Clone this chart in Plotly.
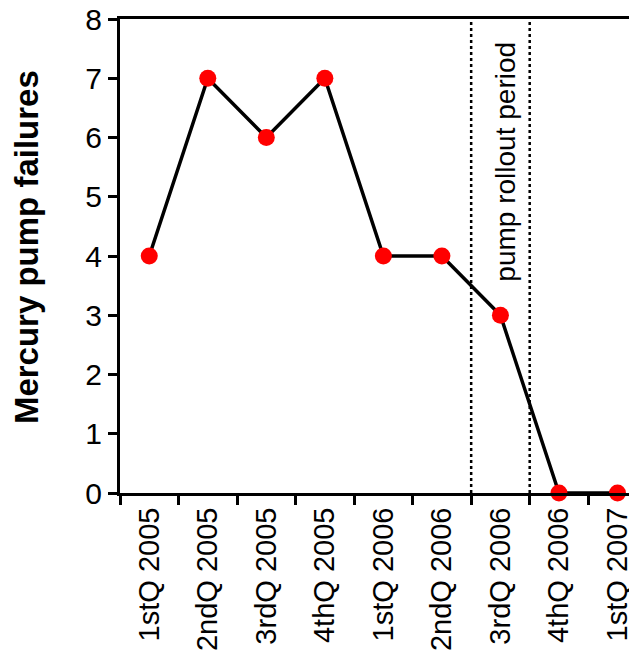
import plotly.graph_objects as go

quarters = ["1stQ 2005", "2ndQ 2005", "3rdQ 2005", "4thQ 2005", "1stQ 2006",
            "2ndQ 2006", "3rdQ 2006", "4thQ 2006", "1stQ 2007"]
failures = [4, 7, 6, 7, 4, 4, 3, 0, 0]
rollout_bounds = [5.5, 6.5]
rollout_label = "pump rollout period"
y_title = "Mercury pump failures"

FONT = "Liberation Sans, Arial, sans-serif"

fig = go.Figure()
fig.add_trace(go.Scatter(
    x=quarters, y=failures, mode="lines+markers",
    line=dict(color="black", width=3.5),
    marker=dict(color="#ff0000", size=17, line=dict(width=0)),
    cliponaxis=False, showlegend=False,
))

for b in rollout_bounds:
    fig.add_shape(type="line", xref="x", yref="y", x0=b, x1=b, y0=0, y1=8,
                  line=dict(color="black", width=2.5, dash="dot"))

fig.add_annotation(x=6, y=5.6, xref="x", yref="y", text=rollout_label,
                   textangle=-90, showarrow=False, xshift=5,
                   font=dict(family=FONT, size=28, color="black"))

fig.add_annotation(x=0, y=4.15, xref="paper", yref="y", text="<b>" + y_title + "</b>",
                   textangle=-90, showarrow=False, xanchor="center", xshift=-94,
                   font=dict(family=FONT, size=33, color="black"))

fig.update_layout(
    width=637, height=657,
    margin=dict(l=112, r=0, t=11, b=172, autoexpand=False),
    paper_bgcolor="white", plot_bgcolor="white",
    font=dict(family=FONT, color="black"),
    xaxis=dict(type="category", range=[-0.5, 8.47], tickson="boundaries",
               ticks="outside", ticklen=9, tickwidth=2.5, tickcolor="black",
               showline=True, linecolor="black", linewidth=3, mirror=True,
               showgrid=False, zeroline=False, tickangle=-90, automargin=False,
               tickfont=dict(family=FONT, size=29, color="black")),
    yaxis=dict(range=[0, 8], dtick=1, ticks="outside", ticklen=9, tickwidth=2.5,
               tickcolor="black", showline=True, linecolor="black", linewidth=3,
               showgrid=False, zeroline=False, ticklabeloverflow="allow",
               automargin=False,
               tickfont=dict(family=FONT, size=30, color="black")),
)

fig.write_html("out.html")
